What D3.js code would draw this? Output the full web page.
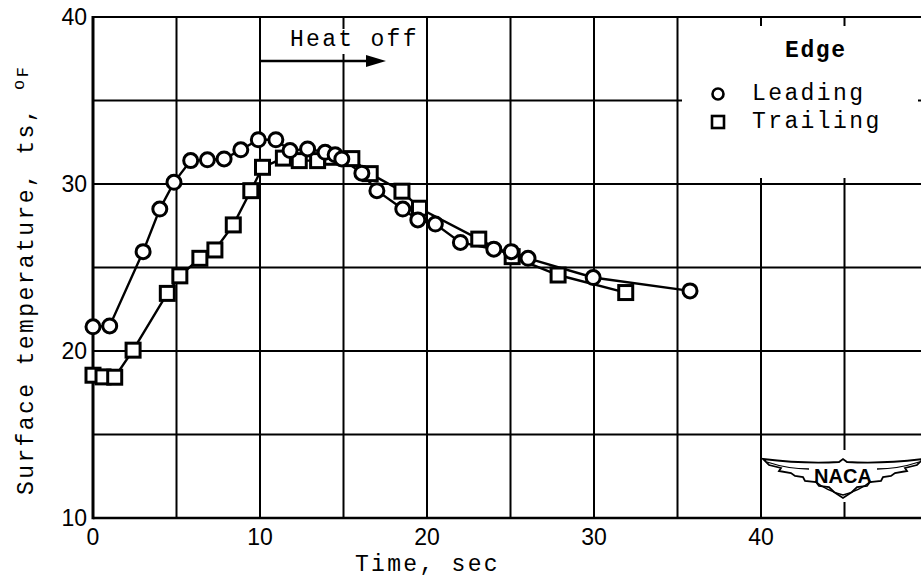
<!DOCTYPE html>
<html>
<head>
    <script type="text/javascript" src="https://cdn.jsdelivr.net/npm/d3@7/dist/d3.min.js"></script>
    <style>
        body { margin: 0; background: #fff; }
        text { font-family: "Liberation Mono", "DejaVu Sans Mono", monospace; fill: #000; }
        .num { font-family: "Liberation Sans", Arial, sans-serif; }
    </style>
</head>
<body>
    <div id="viz"></div>
    <script type="text/javascript">

    // data
    var leadTime  = [0, 1, 3, 4, 4.85, 5.85, 6.85, 7.85, 8.85, 9.9, 10.95, 11.8, 12.85, 13.9, 14.5, 14.9, 16.1, 17.0, 18.55, 19.45, 20.5, 22.0, 24.0, 25.05, 26.05, 29.95, 35.75];
    var leadTemp  = [21.45, 21.5, 25.95, 28.5, 30.1, 31.4, 31.45, 31.5, 32.05, 32.65, 32.65, 32.0, 32.1, 31.9, 31.75, 31.5, 30.65, 29.6, 28.5, 27.85, 27.6, 26.5, 26.1, 25.95, 25.55, 24.4, 23.6];

    var trailTime = [0, 0.6, 1.3, 2.4, 4.45, 5.2, 6.4, 7.3, 8.4, 9.45, 10.15, 11.4, 12.35, 13.45, 14.3, 15.5, 16.6, 18.5, 19.55, 23.1, 25.1, 27.85, 31.9];
    var trailTemp = [18.55, 18.45, 18.43, 20.05, 23.45, 24.5, 25.55, 26.05, 27.55, 29.6, 31.0, 31.55, 31.4, 31.4, 31.6, 31.52, 30.62, 29.57, 28.55, 26.7, 25.65, 24.55, 23.5];

    var xTicks = [0, 10, 20, 30, 40];
    var yTicks = [10, 20, 30, 40];
    var xGrid = [5, 10, 15, 20, 25, 30, 35, 40, 45];
    var yGrid = [15, 20, 25, 30, 35];

    var W = 921, H = 578;

    var x = d3.scaleLinear().domain([0, 50]).range([93, 928]);
    var y = d3.scaleLinear().domain([10, 40]).range([518, 17]);

    var svg = d3.select("#viz").append("svg")
        .attr("width", W)
        .attr("height", H);

    // grid
    svg.selectAll(".gx").data(xGrid).enter().append("line")
        .attr("x1", function(d) { return x(d); })
        .attr("x2", function(d) { return x(d); })
        .attr("y1", y(40)).attr("y2", y(10))
        .style("stroke", "#000").style("stroke-width", 2);

    svg.selectAll(".gy").data(yGrid).enter().append("line")
        .attr("x1", x(0)).attr("x2", W)
        .attr("y1", function(d) { return y(d); })
        .attr("y2", function(d) { return y(d); })
        .style("stroke", "#000").style("stroke-width", 2);

    // white patches where labels sit on the grid
    svg.append("rect").attr("x", 284).attr("y", 29).attr("width", 138).attr("height", 25).style("fill", "#fff");
    svg.append("rect").attr("x", 682).attr("y", 26).attr("width", 236).attr("height", 152).style("fill", "#fff");
    svg.append("rect").attr("x", x(45) - 4).attr("y", 450).attr("width", 8).attr("height", 52).style("fill", "#fff");

    // frame
    svg.append("line").attr("x1", x(0)).attr("x2", W).attr("y1", y(40)).attr("y2", y(40))
        .style("stroke", "#000").style("stroke-width", 2.2);
    svg.append("line").attr("x1", x(0)).attr("x2", W).attr("y1", y(10)).attr("y2", y(10))
        .style("stroke", "#000").style("stroke-width", 2.6);
    svg.append("line").attr("x1", x(0)).attr("x2", x(0)).attr("y1", y(40) - 1).attr("y2", y(10) + 1.3)
        .style("stroke", "#000").style("stroke-width", 3);

    // tick labels
    svg.selectAll(".xt").data(xTicks).enter().append("text")
        .attr("class", "num")
        .attr("x", function(d) { return x(d); })
        .attr("y", 545)
        .attr("text-anchor", "middle")
        .style("font-size", "23px")
        .text(function(d) { return d; });

    svg.selectAll(".yt").data(yTicks).enter().append("text")
        .attr("class", "num")
        .attr("x", 87)
        .attr("y", function(d) { return y(d) + 8; })
        .attr("text-anchor", "end")
        .style("font-size", "23px")
        .text(function(d) { return d; });

    // axis titles
    svg.append("text")
        .attr("x", 355).attr("y", 571)
        .style("font-size", "23px").style("letter-spacing", "2.3px")
        .text("Time, sec");

    var yl = svg.append("text")
        .attr("transform", "translate(33,495) rotate(-90)")
        .style("font-size", "23px").style("letter-spacing", "2.4px");
    yl.append("tspan").text("Surface temperature, ts, ");
    yl.append("tspan").attr("dy", -9).style("font-size", "17px").text("o");
    yl.append("tspan").attr("dy", 4).style("font-size", "17px").text("F");

    // series
    function drawSeries(xs, ys) {
        var pts = xs.map(function(d, i) { return [x(d), y(ys[i])]; });
        svg.append("path")
            .attr("d", d3.line()(pts))
            .style("fill", "none").style("stroke", "#000").style("stroke-width", 2.4);
        return pts;
    }

    var tp = drawSeries(trailTime, trailTemp);
    var lp = drawSeries(leadTime, leadTemp);

    svg.selectAll(".sq").data(tp).enter().append("rect")
        .attr("x", function(d) { return d[0] - 7; })
        .attr("y", function(d) { return d[1] - 7; })
        .attr("width", 14).attr("height", 14)
        .style("fill", "#fff").style("stroke", "#000").style("stroke-width", 3);

    svg.selectAll(".ci").data(lp).enter().append("circle")
        .attr("cx", function(d) { return d[0]; })
        .attr("cy", function(d) { return d[1]; })
        .attr("r", 7)
        .style("fill", "#fff").style("stroke", "#000").style("stroke-width", 3);

    // heat off note
    svg.append("text")
        .attr("x", 290).attr("y", 46)
        .style("font-size", "23px").style("letter-spacing", "2.3px")
        .text("Heat off");
    svg.append("line")
        .attr("x1", x(10)).attr("x2", 370)
        .attr("y1", 61).attr("y2", 61)
        .style("stroke", "#000").style("stroke-width", 2.5);
    svg.append("path")
        .attr("d", "M 386 61 L 366 55 L 366 67 Z")
        .style("fill", "#000");

    // legend
    svg.append("text")
        .attr("x", 785).attr("y", 57)
        .style("font-size", "23px").style("font-weight", "bold").style("letter-spacing", "1.6px")
        .text("Edge");
    svg.append("circle").attr("cx", 718).attr("cy", 94).attr("r", 5.5)
        .style("fill", "#fff").style("stroke", "#000").style("stroke-width", 2.6);
    svg.append("rect").attr("x", 712).attr("y", 116).attr("width", 12).attr("height", 12)
        .style("fill", "#fff").style("stroke", "#000").style("stroke-width", 2.6);
    svg.append("text").attr("x", 752).attr("y", 100)
        .style("font-size", "23px").style("letter-spacing", "2.4px").text("Leading");
    svg.append("text").attr("x", 752).attr("y", 128)
        .style("font-size", "23px").style("letter-spacing", "2.4px").text("Trailing");

    // NACA wings
    var logo = svg.append("g").attr("transform", "translate(843,476)");
    logo.append("path")
        .attr("d", "M -80 -17 Q -40 -12 -4 -14 L 0 -17 L 4 -14 Q 40 -12 80 -17 " +
                   "L 74 -11 L 62 -8 L 64 -5 L 52 -3 L 48 0 L 40 1 L 38 5 L 27 6 L 24 10 L 14 11 L 9 16 L 0 22 " +
                   "L -9 16 L -14 11 L -24 10 L -27 6 L -38 5 L -40 1 L -48 0 L -52 -3 L -64 -5 L -62 -8 L -74 -11 Z")
        .style("fill", "#fff").style("stroke", "#000").style("stroke-width", 1.8);
    logo.append("path")
        .attr("d", "M -76 -14 Q -55 -7 -34 -7 M 76 -14 Q 55 -7 34 -7 M -28 5 Q -18 14 0 19 Q 18 14 28 5")
        .style("fill", "none").style("stroke", "#000").style("stroke-width", 1.3);
    logo.append("text")
        .attr("class", "num")
        .attr("x", 0).attr("y", 7)
        .attr("text-anchor", "middle")
        .style("font-size", "20px").style("font-weight", "bold")
        .text("NACA");

    </script>
</body>
</html>
